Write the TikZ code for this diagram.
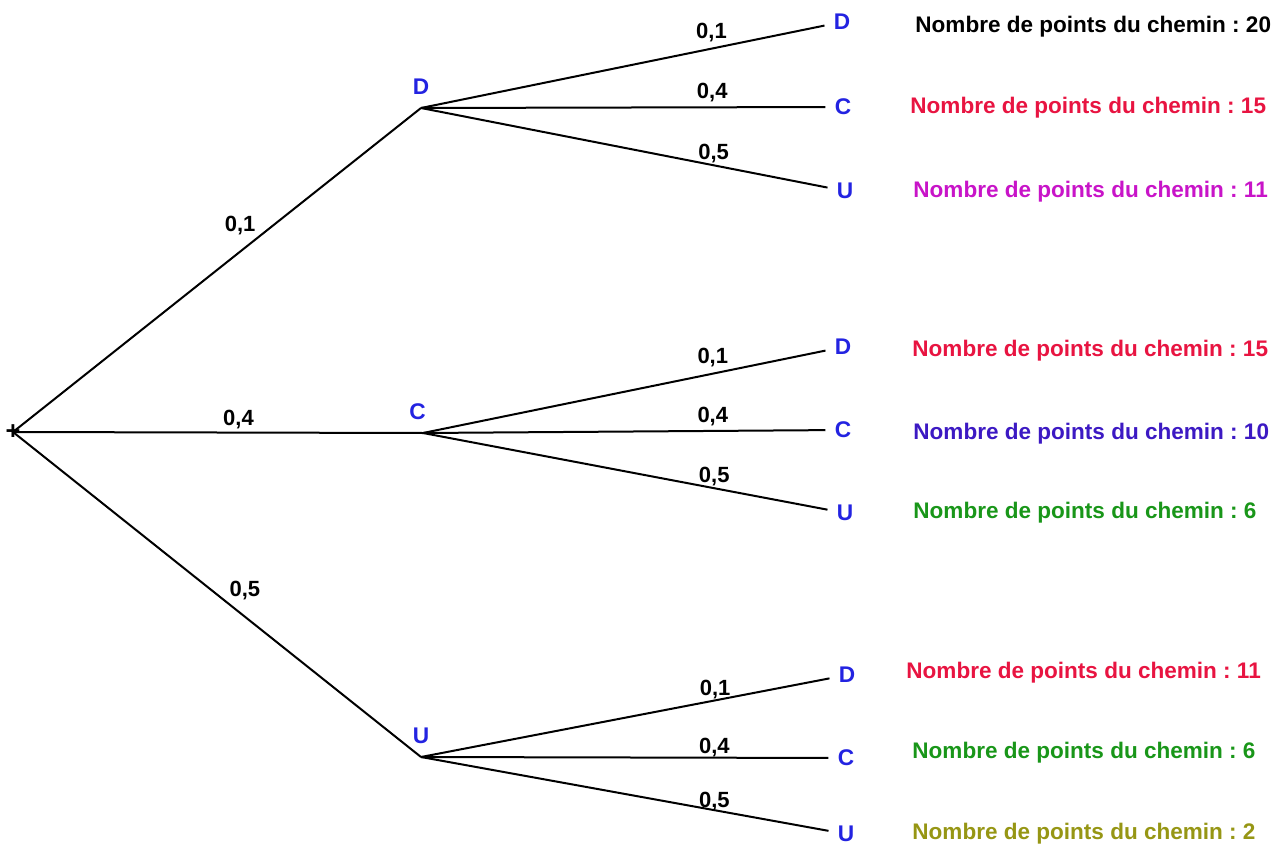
\documentclass[tikz,border=0pt]{standalone}
\usepackage{fontspec}
\setmainfont{Liberation Sans}
\usetikzlibrary{positioning}
\definecolor{bleuL}{RGB}{35,35,225}
\definecolor{rougeC}{RGB}{232,20,65}
\definecolor{magentaC}{RGB}{200,20,200}
\definecolor{bleuC}{RGB}{60,25,195}
\definecolor{vertC}{RGB}{25,150,25}
\definecolor{oliveC}{RGB}{150,150,20}
\frenchspacing

\begin{document}
\begin{tikzpicture}[x=0.75pt,y=-0.75pt,line width=1.5pt,
		lettre/.style={font=\fontsize{17}{18}\selectfont\bfseries,text=bleuL,inner sep=0pt},
		feuille/.style={lettre,outer sep=7pt},
		proba/.style={font=\fontsize{16.5}{17}\selectfont\bfseries,inner sep=1pt},
		chemin/.style={font=\fontsize{16.9}{18}\selectfont\bfseries,anchor=base west}]
			\useasboundingbox (0,0) rectangle (1274,845);

			% racine et premier niveau
			\node[font=\fontsize{19}{19}\selectfont\bfseries,inner sep=0pt] (racine) at (13,432) {+};
			\coordinate (d) at (421,108);
			\coordinate (c) at (423,433);
			\coordinate (u) at (421,757);
			\node[lettre,above=9pt of d] (ld) {D};
			\node[lettre,above=9pt of c,xshift=-4pt] (lc) {C};
			\node[lettre,above=9pt of u] (lu) {U};
			\draw (racine.center) -- node[proba,pos=.6,above left] (p1) {0,1} (d);
			\draw (racine.center) -- node[proba,pos=.55,above=1pt] (p2) {0,4} (c);
			\draw (racine.center) -- node[proba,pos=.525,above right] (p3) {0,5} (u);

			% apres D
			\node[feuille] (dd) at (842,22) {D};
			\node[feuille] (dc) at (843,107) {C};
			\node[feuille] (du) at (845,191) {U};
			\draw (d) -- node[proba,pos=.72,above=3pt] (pdd) {0,1} (dd);
			\draw (d) -- node[proba,pos=.72,above=2pt] (pdc) {0,4} (dc);
			\draw (d) -- node[proba,pos=.72,above=0pt] (pdu) {0,5} (du);

			% apres C
			\node[feuille] (cd) at (843,347) {D};
			\node[feuille] (cc) at (843,430) {C};
			\node[feuille] (cu) at (845,513) {U};
			\draw (c) -- node[proba,pos=.72,above=3pt] (pcd) {0,1} (cd);
			\draw (c) -- node[proba,pos=.72,above=2pt] (pcc) {0,4} (cc);
			\draw (c) -- node[proba,pos=.72,above=0pt] (pcu) {0,5} (cu);

			% apres U
			\node[feuille] (ud) at (847,675) {D};
			\node[feuille] (uc) at (846,758) {C};
			\node[feuille] (uu) at (846,834) {U};
			\draw (u) -- node[proba,pos=.72,above=-1pt] (pud) {0,1} (ud);
			\draw (u) -- node[proba,pos=.72,above=-1.5pt] (puc) {0,4} (uc);
			\draw (u) -- node[proba,pos=.72,above=-2pt] (puu) {0,5} (uu);

			% points des chemins
			\node[chemin] (t1) at (910,33) {Nombre de points du chemin : 20};
			\node[chemin,text=rougeC] (t2) at (905,114) {Nombre de points du chemin : 15};
			\node[chemin,text=magentaC] (t3) at (908,198) {Nombre de points du chemin : 11};
			\node[chemin,text=rougeC] (t4) at (907,356) {Nombre de points du chemin : 15};
			\node[chemin,text=bleuC] (t5) at (908,439) {Nombre de points du chemin : 10};
			\node[chemin,text=vertC] (t6) at (908,518) {Nombre de points du chemin : 6};
			\node[chemin,text=rougeC] (t7) at (901,678) {Nombre de points du chemin : 11};
			\node[chemin,text=vertC] (t8) at (907,758) {Nombre de points du chemin : 6};
			\node[chemin,text=oliveC] (t9) at (907,839) {Nombre de points du chemin : 2};
		\end{tikzpicture}
\end{document}
